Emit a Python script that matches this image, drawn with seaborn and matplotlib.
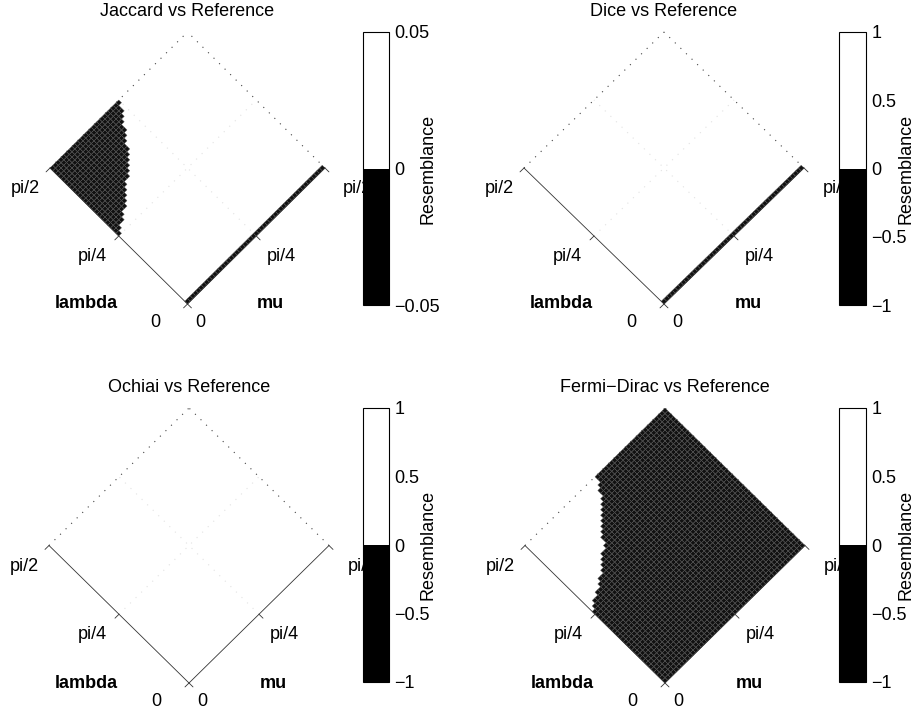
import numpy as np
import matplotlib
matplotlib.use("Agg")
import matplotlib.pyplot as plt
from matplotlib.colors import ListedColormap, Normalize
from matplotlib.cm import ScalarMappable
import seaborn as sns

titles = ["Jaccard vs Reference", "Dice vs Reference",
          "Ochiai vs Reference", "Fermi\u2212Dirac vs Reference"]
cbar_limits = [0.05, 1, 1, 1]
cbar_ticks = [[-0.05, 0, 0.05],
              [-1, -0.5, 0, 0.5, 1],
              [-1, -0.5, 0, 0.5, 1],
              [-1, -0.5, 0, 0.5, 1]]
cbar_tick_labels = [["\u22120.05", "0", "0.05"],
                    ["\u22121", "\u22120.5", "0", "0.5", "1"],
                    ["\u22121", "\u22120.5", "0", "0.5", "1"],
                    ["\u22121", "\u22120.5", "0", "0.5", "1"]]
axis_ticks = [0, np.pi / 4, np.pi / 2]
axis_tick_labels = ["0", "pi/4", "pi/2"]

# edge of the negative patch: (mu + lambda, mu - lambda)
jaccard_sum = [0.79, 0.86, 1.01, 1.32, 1.51, 1.70, 2.08, 2.31, 2.36]
jaccard_diff = [-0.79, -0.777, -0.731, -0.709, -0.674, -0.674, -0.731, -0.766, -0.78]
fermi_sum = [0.79, 0.92, 1.10, 1.41, 1.56, 1.79, 2.18, 2.41]
fermi_diff = [-0.80, -0.80, -0.731, -0.709, -0.686, -0.709, -0.72, -0.777]
# which side of the edge is negative, and whether the lambda = 0 row is negative
neg_side = ["left", None, None, "right"]
neg_strip = [True, True, False, True]

n_cells = 50

W, H = 919, 710


def box(x0, y0, x1, y1):
    return [x0 / W, 1 - y1 / H, (x1 - x0) / W, (y1 - y0) / H]


panel_boxes = [(50, 32, 325, 304), (524, 32, 804, 304),
               (49, 408, 329, 683), (525, 408, 805, 683)]
cbar_boxes = [(363, 32, 389, 305), (839, 32, 866, 305),
              (363, 408, 389, 682), (839, 408, 866, 682)]

sns.set_style("white")
plt.rcParams["font.family"] = ["Liberation Sans", "DejaVu Sans"]
plt.rcParams["font.size"] = 13
plt.rcParams["text.color"] = "black"
plt.rcParams["ytick.color"] = "black"
plt.rcParams["ytick.labelcolor"] = "black"

fig = plt.figure(figsize=(W / 100, H / 100), dpi=100)

lam = np.linspace(0, np.pi / 2, n_cells + 1)
mu = np.linspace(0, np.pi / 2, n_cells + 1)
LAM, MU = np.meshgrid(lam, mu, indexing="ij")
X = MU - LAM
Y = MU + LAM
lam_c = (lam[:-1] + lam[1:]) / 2
mu_c = (mu[:-1] + mu[1:]) / 2
LC, MC = np.meshgrid(lam_c, mu_c, indexing="ij")
XC = MC - LC
YC = MC + LC

edges = [(jaccard_sum, jaccard_diff), None, None, (fermi_sum, fermi_diff)]
cmap = ListedColormap(sns.blend_palette(["black", "white"], 2))

lam_off = [(-0.37, -0.21), (-0.30, -0.235), (-0.28, -0.24)]
mu_off = [(0.15, -0.21), (0.29, -0.235), (0.37, -0.24)]

for i in range(4):
    ax = fig.add_axes(box(*panel_boxes[i]))
    ax.set_xlim(-np.pi / 2, np.pi / 2)
    ax.set_ylim(0, np.pi)
    ax.axis("off")

    # negative cells
    neg = np.zeros_like(XC, dtype=bool)
    if edges[i] is not None:
        s, d = edges[i]
        bound = np.interp(YC, s, d)
        if neg_side[i] == "left":
            neg |= XC < bound
        else:
            neg |= XC > bound
    if neg_strip[i]:
        neg[0, :] = True
    vals = np.ma.masked_where(~neg, -np.ones_like(XC))
    if neg.any():
        ax.pcolor(X, Y, vals, cmap=ListedColormap(["#111111"]),
                  edgecolors="#5a5a5a", linewidth=0.3, zorder=2)

    # dotted grid
    q = np.pi / 4
    h = np.pi / 2
    dot = (0, (1, 6))
    ax.plot([-h, 0], [h, np.pi], ls=dot, color="#444444", lw=0.8,
            clip_on=False, zorder=1)
    ax.plot([h, 0], [h, np.pi], ls=dot, color="#444444", lw=0.8,
            clip_on=False, zorder=1)
    ax.plot([-q, q], [q, 3 * q], ls=dot, color="#e2e2e2", lw=0.8, zorder=1)
    ax.plot([q, -q], [q, 3 * q], ls=dot, color="#e2e2e2", lw=0.8, zorder=1)

    # axis lines
    ax.plot([0, -h], [0, h], color="#333333", lw=0.6, clip_on=False, zorder=3)
    ax.plot([0, h], [0, h], color="#333333", lw=0.6, clip_on=False, zorder=3)
    tl = 0.045
    for v, lab, lo, mo in zip(axis_ticks, axis_tick_labels, lam_off, mu_off):
        ax.plot([-v, -v - tl], [v, v - tl], color="#333333", lw=0.6,
                clip_on=False, zorder=3)
        ax.plot([v, v + tl], [v, v - tl], color="#333333", lw=0.6,
                clip_on=False, zorder=3)
        ax.text(-v + lo[0], v + lo[1], lab, ha="center", va="center")
        ax.text(v + mo[0], v + mo[1], lab, ha="center", va="center")
    ax.text(-1.154, 0, "lambda", ha="center", va="center", fontweight="bold")
    ax.text(0.95, 0, "mu", ha="center", va="center", fontweight="bold")
    ax.text(0.5, 1 + 20 / 272, titles[i], transform=ax.transAxes,
            ha="center", va="center")

    # colorbar
    cax = fig.add_axes(box(*cbar_boxes[i]))
    lim = cbar_limits[i]
    sm = ScalarMappable(norm=Normalize(-lim, lim), cmap=cmap)
    cb = fig.colorbar(sm, cax=cax)
    cb.outline.set_linewidth(0.8)
    cb.outline.set_edgecolor("black")
    cb.set_ticks(cbar_ticks[i])
    cb.set_ticklabels(cbar_tick_labels[i])
    cax.tick_params(direction="in", length=3, width=0.6, pad=4, labelsize=13,
                    colors="black")
    cax.text(2.5, 0.5, "Resemblance", rotation=90, transform=cax.transAxes,
             ha="center", va="center")

fig.savefig("out.png", dpi=100)
